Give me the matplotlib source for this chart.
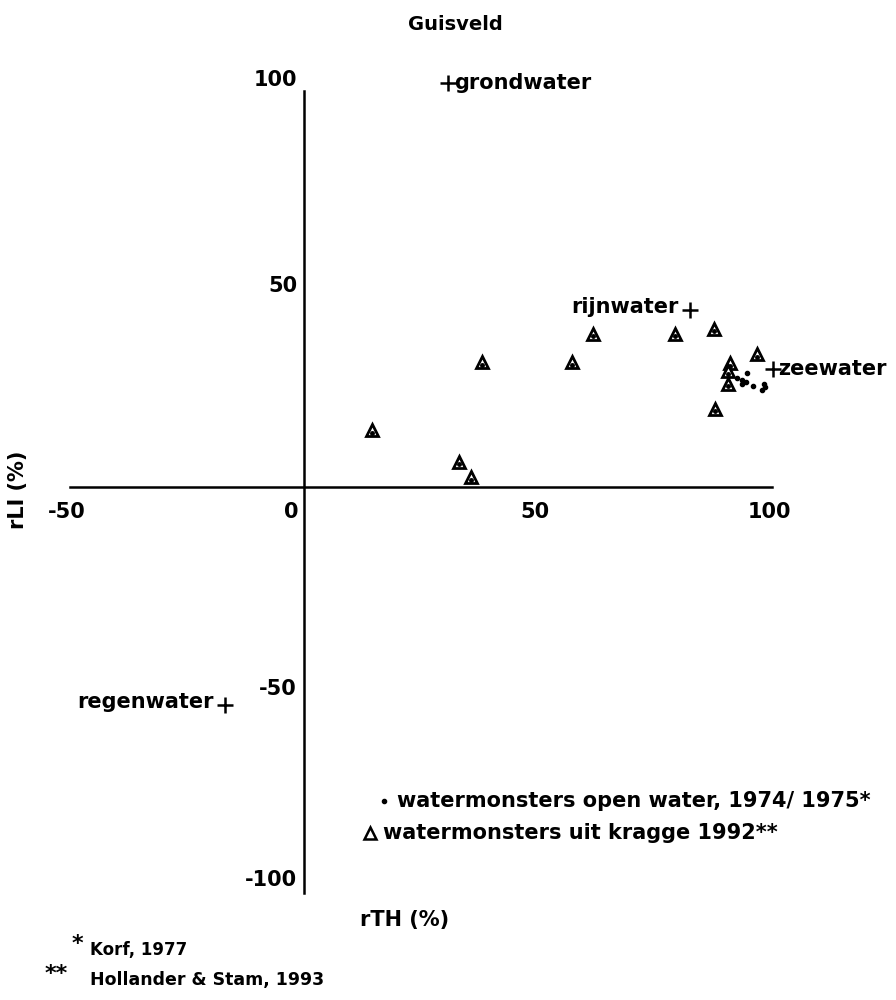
import matplotlib
matplotlib.use("Agg")
import matplotlib.pyplot as plt

plt.rcParams['font.family'] = ['DejaVu Sans']
plt.rcParams['font.weight'] = 'bold'

# rTH (%) and rLI (%) of the samples
kragge_x = [14.5, 33.1, 35.7, 38.0, 57.3, 61.8, 79.3, 87.6, 96.8, 91.0, 90.6, 90.6, 87.8]
kragge_y = [14.3, 6.3, 2.5, 31.5, 31.5, 38.75, 38.75, 40.0, 33.5, 31.25, 29.25, 26.0, 19.75]

open_x = [94.7, 93.6, 92.5, 93.5, 94.5, 95.9, 97.9, 98.5, 98.2]
open_y = [28.75, 26.0, 27.5, 27.0, 26.5, 25.5, 24.5, 25.25, 26.0]

# reference waters
ref_names = ["grondwater", "rijnwater", "zeewater", "regenwater"]
ref_x = [30.8, 82.5, 100.2, -16.9]
ref_y = [102.0, 44.75, 29.75, -55.0]

xticks = [-50, 0, 50, 100]
yticks = [100, 50, -50, -100]

fig = plt.figure(figsize=(8.96, 10), dpi=100)
ax = fig.add_axes([70/896, 1-893/1000, (772-70)/896, (893-91)/1000])
ax.set_xlim(-50, 100)
ax.set_ylim(-102.5, 100)
ax.spines['left'].set_position('zero')
ax.spines['bottom'].set_position('zero')
ax.spines['top'].set_visible(False)
ax.spines['right'].set_visible(False)
ax.spines['left'].set_linewidth(1.8)
ax.spines['bottom'].set_linewidth(1.8)
ax.set_xticks([])
ax.set_yticks([])
ax.patch.set_visible(False)

fs = 15
for v in xticks:
    dx = -9 if v == 0 else -2
    ax.annotate(str(v), (v, 0), xytext=(dx, -18), textcoords='offset points',
                ha='center', va='center', fontsize=fs, annotation_clip=False)
for v in yticks:
    dy = {100: 8, 50: 2, -50: -3, -100: 2}[v]
    ax.annotate(str(v), (0, v), xytext=(-5, dy), textcoords='offset points',
                ha='right', va='center', fontsize=fs, annotation_clip=False)

# samples
ax.plot(kragge_x, kragge_y, linestyle='none', marker='^', markersize=9,
        mfc='white', mec='black', mew=2, clip_on=False)
ax.plot(kragge_x, [y - 0.6 for y in kragge_y], linestyle='none', marker='o',
        markersize=2.5, color='black', clip_on=False)
ax.plot(open_x, open_y, linestyle='none', marker='o', markersize=3,
        color='black', clip_on=False)

# reference points with labels
for name, x, y in zip(ref_names, ref_x, ref_y):
    ax.plot(x, y, marker='+', markersize=11, mew=1.8, color='black', clip_on=False)
    if name in ("grondwater", "zeewater"):
        ax.annotate(name, (x, y), xytext=(4, 0), textcoords='offset points',
                    ha='left', va='center', fontsize=fs, annotation_clip=False)
    else:
        ax.annotate(name, (x, y), xytext=(-8, 2), textcoords='offset points',
                    ha='right', va='center', fontsize=fs, annotation_clip=False)

# legend
ax.plot(17, -79.3, marker='o', markersize=3, color='black', clip_on=False)
ax.annotate("watermonsters open water, 1974/ 1975*", (17, -79.3), xytext=(10, 0),
            textcoords='offset points', ha='left', va='center', fontsize=fs)
ax.plot(14, -87.3, marker='^', markersize=8, mfc='white', mec='black', mew=1.8, clip_on=False)
ax.annotate("watermonsters uit kragge 1992**", (14, -87.3), xytext=(10, 0),
            textcoords='offset points', ha='left', va='center', fontsize=fs)

fig.text(455/896, 1-25/1000, "Guisveld", ha='center', va='center', fontsize=14)
fig.text(18/896, 1-490/1000, "rLI (%)", rotation=90, ha='center', va='center', fontsize=fs)
fig.text(405/896, 1-920/1000, "rTH (%)", ha='center', va='center', fontsize=fs)
fig.text(72/896, 1-944/1000, "*", ha='left', va='center', fontsize=16)
fig.text(90/896, 1-950/1000, "Korf, 1977", ha='left', va='center', fontsize=12)
fig.text(45/896, 1-974/1000, "**", ha='left', va='center', fontsize=16)
fig.text(90/896, 1-980/1000, "Hollander & Stam, 1993", ha='left', va='center', fontsize=12.5)

fig.savefig("out.png", dpi=100)
